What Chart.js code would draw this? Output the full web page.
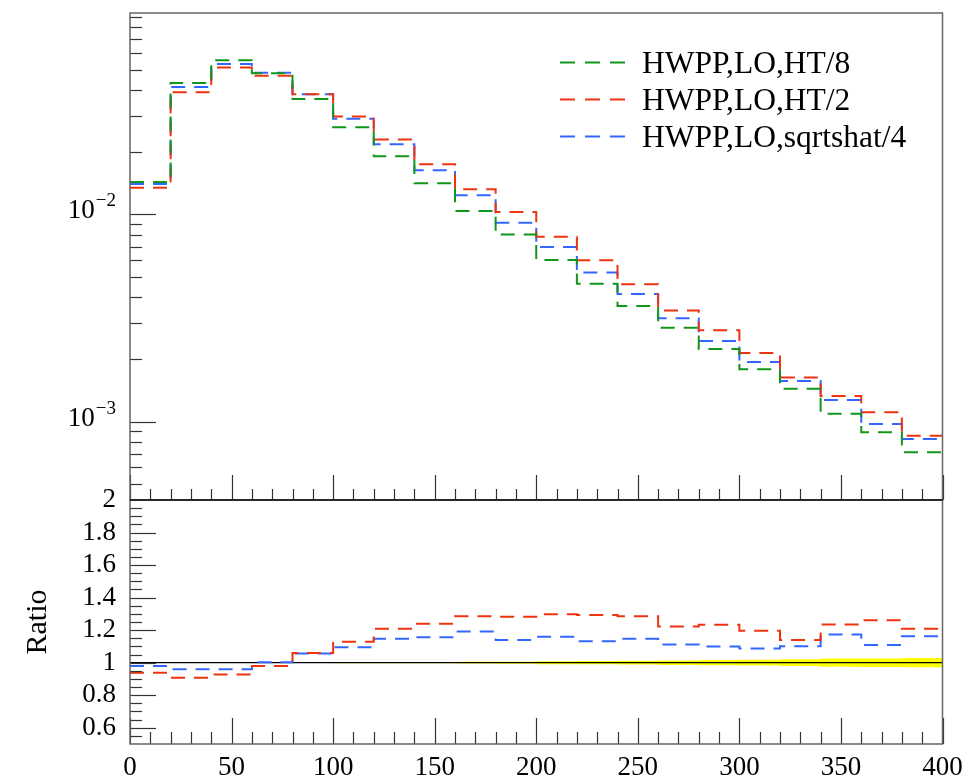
<!DOCTYPE html>
<html>
<head>
<meta charset="utf-8">
<script src="https://cdn.jsdelivr.net/npm/chart.js@4"></script>
<style>
  html, body { margin: 0; padding: 0; background: #fff; }
  #wrap { position: relative; width: 977px; height: 780px; }
  #wrap canvas { position: absolute; left: 0; top: 0; }
</style>
</head>
<body>
<div id="wrap">
  <canvas id="mainChart" width="977" height="780"></canvas>
  <canvas id="ratioChart" width="977" height="780"></canvas>
</div>
<script>
// bin edges (20 bins of width 20)
const binEdges = [0, 20, 40, 60, 80, 100, 120, 140, 160, 180, 200, 220, 240, 260, 280, 300, 320, 340, 360, 380, 400];

// main panel values
const ht8 = [0.01436, 0.0431, 0.0556, 0.0480, 0.0361, 0.0264, 0.0191, 0.01415, 0.01040, 0.00799,
             0.00603, 0.00463, 0.00361, 0.00284, 0.00224, 0.00179, 0.00144, 0.00109, 0.000887, 0.000710];
const ht2 = [0.01347, 0.0389, 0.0512, 0.0467, 0.0381, 0.0297, 0.0230, 0.01747, 0.01323, 0.01028,
             0.00781, 0.00601, 0.00460, 0.00344, 0.00276, 0.00214, 0.00163, 0.00133, 0.00111, 0.000854];
const sqrts4 = [0.01404, 0.0412, 0.0533, 0.0483, 0.0381, 0.0290, 0.0218, 0.01635, 0.01238, 0.00913,
                0.00697, 0.00524, 0.00413, 0.00315, 0.00245, 0.00194, 0.00157, 0.00127, 0.000973, 0.000823];

// ratio panel values (relative to HT/8)
const ratioHt2 = [0.938, 0.907, 0.928, 0.980, 1.060, 1.128, 1.208, 1.239, 1.285, 1.283,
                  1.297, 1.293, 1.285, 1.223, 1.233, 1.196, 1.140, 1.235, 1.260, 1.208];
const ratioSqrts4 = [0.980, 0.959, 0.959, 1.002, 1.056, 1.095, 1.147, 1.157, 1.192, 1.140,
                     1.159, 1.132, 1.147, 1.111, 1.099, 1.087, 1.101, 1.173, 1.108, 1.163];
const refRatio = [1, 1, 1, 1, 1, 1, 1, 1, 1, 1, 1, 1, 1, 1, 1, 1, 1, 1, 1, 1];
const refErr = [0.002, 0.002, 0.002, 0.002, 0.002, 0.003, 0.003, 0.004, 0.005, 0.006,
                0.009, 0.010, 0.012, 0.014, 0.016, 0.018, 0.021, 0.025, 0.026, 0.028];

// ticks
const xTicks = [0, 50, 100, 150, 200, 250, 300, 350, 400];
const ratioTicks = [0.6, 0.8, 1, 1.2, 1.4, 1.6, 1.8, 2];
const decadeExps = [-2, -3];

const labels = ['HWPP,LO,HT/8', 'HWPP,LO,HT/2', 'HWPP,LO,sqrtshat/4'];
const colors = ['#109618', '#EE3311', '#3366FF'];

const FONT = '"Liberation Serif", "DejaVu Serif", serif';
const FRAME = '#666';
const TICK = '#333';

function histPoints(vals) {
  const pts = [];
  vals.forEach((v, i) => {
    pts.push({ x: binEdges[i], y: v });
    pts.push({ x: binEdges[i + 1], y: v });
  });
  return pts;
}

function lineSet(label, vals, color, order) {
  return {
    label: label,
    data: histPoints(vals),
    borderColor: color,
    borderWidth: 2,
    borderDash: [14, 9],
    pointRadius: 0,
    fill: false,
    order: order || 0
  };
}

function tick(ctx, x1, y1, x2, y2) {
  ctx.beginPath();
  ctx.moveTo(x1, y1);
  ctx.lineTo(x2, y2);
  ctx.stroke();
}

// 🔹 MAIN PANEL DECORATION
const mainDecor = {
  id: 'mainDecor',
  afterDraw(chart) {
    const ctx = chart.ctx;
    const a = chart.chartArea;
    const xs = chart.scales.x, ys = chart.scales.y;
    ctx.save();

    ctx.strokeStyle = TICK;
    ctx.lineWidth = 1.2;
    // log y ticks
    for (let e = -4; e <= -1; e++) {
      for (let k = 1; k <= 9; k++) {
        const v = k * Math.pow(10, e);
        if (v <= ys.min || v >= ys.max) continue;
        const y = Math.round(ys.getPixelForValue(v)) + 0.5;
        tick(ctx, a.left, y, a.left + (k === 1 ? 26 : 12), y);
      }
    }
    // x ticks on bottom edge
    for (let v = 0; v <= 400; v += 10) {
      const x = Math.round(xs.getPixelForValue(v)) + 0.5;
      tick(ctx, x, a.bottom, x, a.bottom - (v % 50 === 0 ? 25 : 11));
    }

    // frame
    ctx.strokeStyle = FRAME;
    ctx.lineWidth = 1.5;
    ctx.strokeRect(a.left, a.top, a.right - a.left, a.bottom - a.top);

    // decade labels 10^-n
    ctx.fillStyle = '#000';
    ctx.textBaseline = 'alphabetic';
    ctx.textAlign = 'left';
    decadeExps.forEach(e => {
      const y = ys.getPixelForValue(Math.pow(10, e));
      const sup = '\u2212' + Math.abs(e);
      ctx.font = '19px ' + FONT;
      const sw = ctx.measureText(sup).width;
      ctx.font = '27px ' + FONT;
      const bw = ctx.measureText('10').width;
      const right = 116;
      ctx.fillText('10', right - sw - bw - 1, y + 4);
      ctx.font = '19px ' + FONT;
      ctx.fillText(sup, right - sw, y - 8);
    });

    // legend
    chart.data.datasets.forEach((ds, i) => {
      const y = 62.5 + 37 * i;
      ctx.strokeStyle = ds.borderColor;
      ctx.lineWidth = 2;
      ctx.setLineDash([15, 10]);
      tick(ctx, 560, y, 627, y);
      ctx.setLineDash([]);
      ctx.fillStyle = '#000';
      ctx.font = '31.5px ' + FONT;
      ctx.fillText(ds.label, 642, y + 10);
    });
    ctx.restore();
  }
};

// 🔹 RATIO PANEL DECORATION
const ratioDecor = {
  id: 'ratioDecor',
  afterDraw(chart) {
    const ctx = chart.ctx;
    const a = chart.chartArea;
    const xs = chart.scales.x, ys = chart.scales.y;
    ctx.save();
    ctx.strokeStyle = TICK;
    ctx.lineWidth = 1.2;
    for (let v = 0; v <= 400; v += 10) {
      const x = Math.round(xs.getPixelForValue(v)) + 0.5;
      tick(ctx, x, a.bottom, x, a.bottom - (v % 50 === 0 ? 26 : 12));
    }
    for (let k = 11; k < 40; k++) {
      const y = Math.round(ys.getPixelForValue(k * 0.05)) + 0.5;
      tick(ctx, a.left, y, a.left + (k % 4 === 0 ? 26 : 12), y);
    }
    ctx.strokeStyle = FRAME;
    ctx.lineWidth = 1.5;
    ctx.strokeRect(a.left, a.top, a.right - a.left, a.bottom - a.top);
    ctx.strokeStyle = '#111';
    ctx.lineWidth = 1.3;
    tick(ctx, a.left, a.top, a.right, a.top);
    ctx.restore();
  }
};

Chart.defaults.font.family = FONT;
Chart.defaults.color = '#000';

new Chart(document.getElementById('mainChart'), {
  type: 'line',
  data: {
    datasets: [
      lineSet(labels[0], ht8, colors[0]),
      lineSet(labels[1], ht2, colors[1]),
      lineSet(labels[2], sqrts4, colors[2])
    ]
  },
  options: {
    responsive: false,
    animation: false,
    devicePixelRatio: 1,
    layout: { padding: { left: 130, right: 34.5, top: 13, bottom: 280 } },
    plugins: { legend: { display: false }, tooltip: { enabled: false } },
    scales: {
      x: { type: 'linear', min: 0, max: 400, display: false },
      y: { type: 'logarithmic', min: 4.18e-4, max: 0.0939, display: false }
    }
  },
  plugins: [mainDecor]
});

new Chart(document.getElementById('ratioChart'), {
  type: 'line',
  data: {
    datasets: [
      lineSet(labels[1], ratioHt2, colors[1], 0),
      lineSet(labels[2], ratioSqrts4, colors[2], 0),
      { label: 'ref', data: histPoints(refRatio), borderColor: '#000', borderWidth: 1.2,
        pointRadius: 0, fill: false, order: 1 },
      { label: 'errLo', data: histPoints(refRatio.map((r, i) => r - refErr[i])),
        borderWidth: 0, pointRadius: 0, fill: false, order: 3 },
      { label: 'errHi', data: histPoints(refRatio.map((r, i) => r + refErr[i])),
        borderWidth: 0, pointRadius: 0, fill: '-1', backgroundColor: '#ffff00', order: 2 }
    ]
  },
  options: {
    responsive: false,
    animation: false,
    devicePixelRatio: 1,
    layout: { padding: { left: 0, right: 34.5, top: 500, bottom: 0 } },
    plugins: { legend: { display: false }, tooltip: { enabled: false } },
    scales: {
      x: {
        type: 'linear', min: 0, max: 400,
        grid: { display: false, drawTicks: false },
        border: { display: false },
        ticks: { font: { size: 27 }, padding: 8, maxRotation: 0, autoSkip: false, color: '#000' },
        afterBuildTicks: s => { s.ticks = xTicks.map(v => ({ value: v })); },
        afterFit: s => { s.height = 36; }
      },
      y: {
        min: 0.5, max: 2,
        grid: { display: false, drawTicks: false },
        border: { display: false },
        ticks: { font: { size: 27 }, padding: 14, color: '#000', autoSkip: false,
                 callback: v => String(+v.toFixed(1)) },
        afterBuildTicks: s => { s.ticks = ratioTicks.map(v => ({ value: v })); },
        afterFit: s => { s.width = 130; },
        title: { display: true, text: 'Ratio', font: { size: 30 }, padding: { top: 20, bottom: 0 }, color: '#000' }
      }
    }
  },
  plugins: [ratioDecor]
});
</script>
</body>
</html>
